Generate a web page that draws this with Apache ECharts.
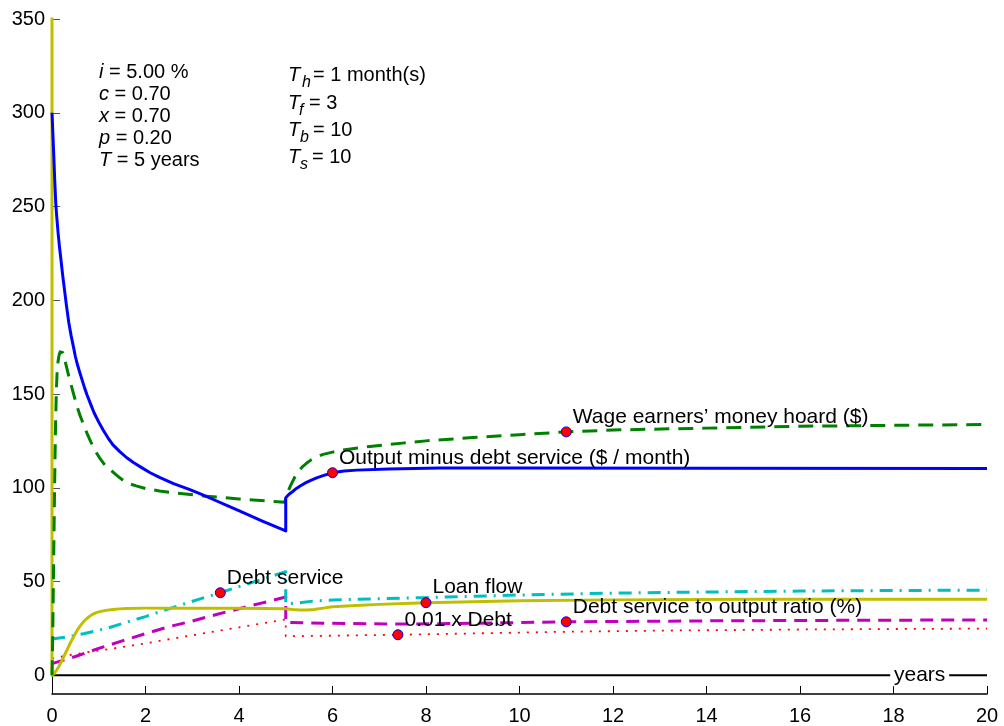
<!DOCTYPE html>
<html>
<head>
<meta charset="utf-8">
<script src="https://cdn.jsdelivr.net/npm/echarts@6/dist/echarts.min.js"></script>
<style>html,body{margin:0;padding:0;background:#fff;}#c{width:1004px;height:726px;}</style>
</head>
<body>
<div id="c"></div>
<script>
// ---- data ----
const xTicks = [0, 2, 4, 6, 8, 10, 12, 14, 16, 18, 20];
const yTicks = [0, 50, 100, 150, 200, 250, 300, 350];

// Output minus debt service ($ / month)
const blueT = [0,0.01,0.02,0.03,0.04,0.06,0.08,0.1,0.13,0.16,0.19,0.23,0.27,0.31,0.36,0.41,0.46,0.5,0.54,0.6,0.65,0.7,0.75,0.82,0.9,1,1.1,1.2,1.3,1.45,1.6,1.75,1.9,2.1,2.3,2.6,2.95,3.2,3.5,3.75,4.02,4.5,5,5,5.07,5.15,5.22,5.3,5.4,5.5,5.66,5.8,6,6.25,6.52,7.2,8.3,10,14,20];
const blueV = [300,294,288,282,276,263,252,245,236,228.5,222,213,205,197,188,181,175,170,166,161,157,153,149.5,145,140,135,130.5,126.5,123,119.3,116,113.3,111,108,105.5,102.2,99,96.5,93.2,90.5,87.5,82.2,77,94.7,96.5,98,99.5,100.8,102.3,103.5,105.3,106.5,108,108.9,109.4,110,110.5,110.5,110.4,110.3];

// Wage earners' money hoard ($)
const greenT = [0,0.01,0.02,0.035,0.05,0.065,0.08,0.095,0.11,0.13,0.15,0.175,0.2,0.23,0.26,0.3,0.36,0.45,0.54,0.6,0.67,0.75,0.83,0.93,1.03,1.15,1.3,1.45,1.6,1.8,2,2.3,2.6,3.3,4,4.98,5,5.05,5.1,5.2,5.27,5.35,5.45,5.55,5.68,5.8,6,6.2,6.5,6.8,7.5,8,9,10,11,12,14,16,18,20];
const greenV = [0,12,30,60,90,117,138,153,162,167.5,170.5,172.5,173,172,169.5,165.5,159.4,151,143,138.5,134,129,124.5,119.5,115.5,111.5,108.5,105.3,102.6,101,99.6,98.3,97.3,95.5,94,92.3,94.5,98,101,106,108.7,111,113.2,115,116.6,117.8,119,120,121.1,122,123.8,125,126.8,128.3,129.8,130.8,131.8,132.8,133.3,133.7];

// Debt service
const cyanT = [0,0.3,0.7,1.2,1.6,2,2.3,2.7,3.1,3.6,4,4.5,5,5,5.3,5.6,6,7,8,10,12,14,16,18,20];
const cyanV = [19.3,20.3,22.3,25.2,28.3,31.3,33.8,37,40.2,44,47.3,51.2,55.2,38,38.7,39.6,40.1,40.8,41.4,42.8,43.8,44.4,44.9,45.2,45.4];

// Loan flow
const yellowT = [0,0,0.05,0.1,0.15,0.2,0.25,0.3,0.35,0.4,0.45,0.5,0.55,0.6,0.65,0.7,0.78,0.85,0.92,1,1.15,1.3,1.45,1.6,2,3,4,5,5.15,5.3,5.45,5.6,5.8,6,6.5,7,8,10,12,15,20];
const yellowV = [400,0,1,2.8,4.8,7.2,9.8,12.4,15,17.6,20,22.3,24.4,26.2,27.8,29.2,31,32.2,33.1,33.8,34.6,35.1,35.4,35.6,35.8,35.8,35.7,35.5,35.1,34.8,34.8,35.1,35.8,36.5,37.2,37.8,38.7,39.7,40.2,40.5,40.6];

// Debt service to output ratio (%)
const magT = [0,0.5,1,1.5,2,2.5,3,3.5,4,4.5,5,5,6,7.4,9,11,14,17,20];
const magV = [6.2,10,14.3,18.3,22.2,25.9,28.9,32.3,35.5,38.6,41.7,28.2,27.7,27.3,27.7,28.5,29,29.3,29.5];

// 0.01 x Debt
const redT = [0,0.5,1,1.5,2,2.5,3,3.5,4,4.5,5,5,6,7.4,9,11,13,16,20];
const redV = [9,11.3,13.2,15,17,19.2,21.3,23.5,25.5,27.7,29.8,20.8,21.1,21.6,22.3,23.2,23.8,24.4,24.9];

const labelNames = ["Output minus debt service ($ / month)", "Wage earners\u2019 money hoard ($)", "Debt service", "Loan flow", "Debt service to output ratio (%)", "0.01 x Debt"];
const labelT = [6, 11, 3.6, 8, 11, 7.4];

// ---- chart ----
const FONT = '"Liberation Sans", Arial, sans-serif';
function pairs(ts, vs) { return ts.map((t, i) => [t, vs[i]]); }
function mark(ts, vs, k) {
  const t = labelT[k];
  const v = vs[ts.indexOf(t)];
  return {
    symbol: 'circle', symbolSize: 10, silent: true,
    itemStyle: { color: '#ff0000', borderColor: '#0000ff', borderWidth: 1 },
    label: { show: true, position: 'right', distance: 1, offset: [0, -15], color: '#000', fontSize: 21, fontFamily: FONT, formatter: labelNames[k] },
    data: [{ coord: [t, v] }]
  };
}
function line(name, ts, vs, color, width, type, k) {
  const s = {
    name, type: 'line', data: pairs(ts, vs), showSymbol: false, symbol: 'none',
    clip: true, animation: false,
    lineStyle: { color, width, type, cap: 'butt', join: 'round' }
  };
  if (k !== undefined) s.markPoint = mark(ts, vs, k);
  return s;
}

const chart = echarts.init(document.getElementById('c'), null, { renderer: 'canvas' });
const option = {
  animation: false,
  backgroundColor: '#fff',
  grid: { left: 52, right: 17, top: 19, bottom: 32 },
  xAxis: {
    type: 'value', min: 0, max: 20, interval: 2,
    axisLine: { onZero: false, lineStyle: { color: '#000', width: 1.5 } },
    axisTick: { inside: true, length: 8, lineStyle: { color: '#000' }, customValues: xTicks },
    axisLabel: { color: '#000', fontSize: 20, fontFamily: FONT, margin: 12, customValues: xTicks },
    splitLine: { show: false }
  },
  yAxis: {
    type: 'value', min: -10, max: 350,
    axisLine: { show: true, onZero: false, lineStyle: { color: '#000', width: 1 } },
    axisTick: { show: true, inside: true, length: 8, lineStyle: { color: '#555' }, customValues: yTicks },
    axisLabel: { color: '#000', fontSize: 20, fontFamily: FONT, margin: 7, customValues: yTicks },
    splitLine: { show: false }
  },
  series: [
    {
      type: 'line', data: [[0, 0], [20, 0]], showSymbol: false, symbol: 'none', animation: false,
      lineStyle: { color: '#000', width: 2 },
      markPoint: {
        silent: true,
        data: [{ coord: [18.56, 0], symbol: 'rect', symbolSize: [59, 22], itemStyle: { color: '#fff' },
          label: { show: true, position: 'inside', formatter: 'years', color: '#000', fontSize: 21, fontFamily: FONT } }]
      }
    },
    line('0.01 x Debt', redT, redV, '#ff0000', 1.8, [2, 7], 5),
    line('Debt service to output ratio (%)', magT, magV, '#bf00bf', 3, [13, 8], 4),
    line('Debt service', cyanT, cyanV, '#00bfbf', 3, [13, 7, 2, 7], 2),
    line('Loan flow', yellowT, yellowV, '#bfbf00', 3, 'solid', 3),
    line('Wage earners money hoard', greenT, greenV, '#008000', 3, [15, 9], 1),
    line('Output minus debt service', blueT, blueV, '#0000ff', 3, 'solid', 0)
  ],
  graphic: [
    { type: 'text', left: 99, top: 62, silent: true,
      style: { text: '{i|i} = 5.00 %\n{i|c} = 0.70\n{i|x} = 0.70\n{i|p} = 0.20\n{i|T} = 5 years',
        fill: '#000', fontSize: 20, fontFamily: FONT, lineHeight: 21.8,
        rich: { i: { fontStyle: 'italic', fontSize: 20, fontFamily: FONT, lineHeight: 21.8 } } } },
    // T_h
    { type: 'text', x: 288, y: 75, silent: true, style: { text: 'T', fill: '#000', font: 'italic 20px ' + FONT, verticalAlign: 'middle' } },
    { type: 'text', x: 302, y: 83, silent: true, style: { text: 'h', fill: '#000', font: 'italic 16px ' + FONT, verticalAlign: 'middle' } },
    { type: 'text', x: 313, y: 75, silent: true, style: { text: '= 1 month(s)', fill: '#000', font: '20px ' + FONT, verticalAlign: 'middle' } },
    // T_f
    { type: 'text', x: 288, y: 103, silent: true, style: { text: 'T', fill: '#000', font: 'italic 20px ' + FONT, verticalAlign: 'middle' } },
    { type: 'text', x: 299, y: 111, silent: true, style: { text: 'f', fill: '#000', font: 'italic 16px ' + FONT, verticalAlign: 'middle' } },
    { type: 'text', x: 309, y: 103, silent: true, style: { text: '= 3', fill: '#000', font: '20px ' + FONT, verticalAlign: 'middle' } },
    // T_b
    { type: 'text', x: 288, y: 130, silent: true, style: { text: 'T', fill: '#000', font: 'italic 20px ' + FONT, verticalAlign: 'middle' } },
    { type: 'text', x: 300, y: 138, silent: true, style: { text: 'b', fill: '#000', font: 'italic 16px ' + FONT, verticalAlign: 'middle' } },
    { type: 'text', x: 313, y: 130, silent: true, style: { text: '= 10', fill: '#000', font: '20px ' + FONT, verticalAlign: 'middle' } },
    // T_s
    { type: 'text', x: 288, y: 157, silent: true, style: { text: 'T', fill: '#000', font: 'italic 20px ' + FONT, verticalAlign: 'middle' } },
    { type: 'text', x: 300, y: 165, silent: true, style: { text: 's', fill: '#000', font: 'italic 16px ' + FONT, verticalAlign: 'middle' } },
    { type: 'text', x: 312, y: 157, silent: true, style: { text: '= 10', fill: '#000', font: '20px ' + FONT, verticalAlign: 'middle' } }
  ]
};
chart.setOption(option);
</script>
</body>
</html>
